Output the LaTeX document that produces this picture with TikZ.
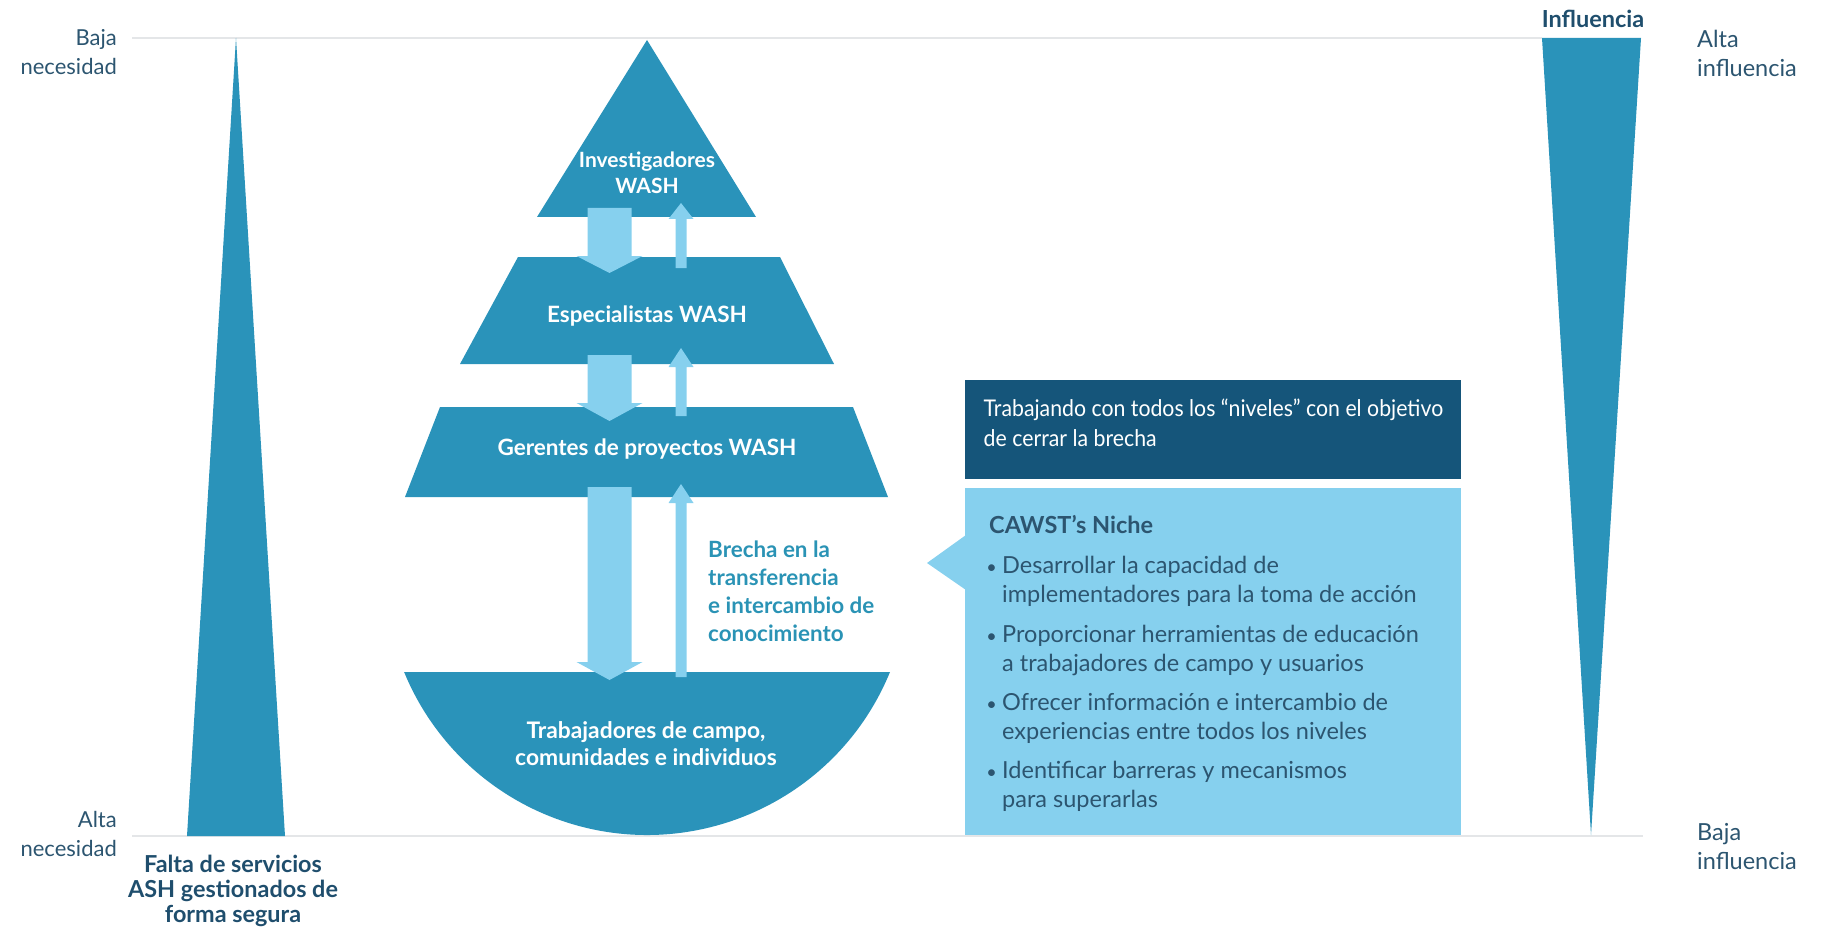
\documentclass[tikz,border=0pt]{standalone}
\usepackage{fontspec}
\setmainfont{Lato}
\newfontfamily\condfont{Lato}[FakeStretch=0.925]
\definecolor{drop}{HTML}{2A93BA}
\definecolor{lightb}{HTML}{86D0EE}
\definecolor{darkbox}{HTML}{15557A}
\definecolor{txt}{HTML}{2C5570}
\definecolor{txtb}{HTML}{1F4E6D}
\definecolor{gapc}{HTML}{2A93B5}
\definecolor{rulec}{HTML}{E4E6E8}
\newcommand{\blockdown}[4]{% x-center, top, head base, tip
  \fill[lightb] ({#1-22},#2) -- ({#1+22},#2) -- ({#1+22},#3) -- ({#1+33},#3) -- (#1,#4) -- ({#1-33},#3) -- ({#1-22},#3) -- cycle;}
\newcommand{\blockup}[4]{% x-center, bottom, head base, tip
  \fill[lightb] ({#1-5.5},#2) -- ({#1+5.5},#2) -- ({#1+5.5},#3) -- ({#1+12.5},#3) -- (#1,#4) -- ({#1-12.5},#3) -- ({#1-5.5},#3) -- cycle;}
\begin{document}
\begin{tikzpicture}[x=1pt,y=-1pt,
  lbl/.style={text=txt,font=\fontsize{22}{29}\selectfont,inner sep=0pt},
  wlbl/.style={text=white,font=\bfseries\fontsize{22.5}{26}\selectfont,inner sep=0pt,align=center},
  bul/.style={text=txt,font=\fontsize{23.5}{28.5}\selectfont,inner sep=0pt,align=left,anchor=north west},
  dot/.style={text=txt,font=\fontsize{18}{20}\selectfont,inner sep=0pt,anchor=base east}]
\useasboundingbox (0,0) rectangle (1823,936);
% rules
\draw[rulec,line width=2pt] (132,38) -- (1542,38);
\draw[rulec,line width=2pt] (132,836) -- (1643,836);
% spikes
\fill[drop] (236,38) -- (285,836) -- (187,836) -- cycle;
\fill[drop] (1542,38) -- (1641,38) -- (1591,835) -- cycle;
% drop pieces
\fill[drop] (647,40) -- (756,217) -- (537,217) -- cycle;
\fill[drop] (518,257) -- (780,257) -- (834,364) -- (460,364) -- cycle;
\fill[drop] (440,407) -- (853,407) -- (888,497) -- (405,497) -- cycle;
\fill[drop] (890,672) arc[start angle=22.3,end angle=157.7,radius=262.6] -- cycle;
% arrows
\blockdown{609.5}{208}{256}{273}
\blockup{681}{268}{219}{203}
\blockdown{609.5}{355}{403}{421}
\blockup{681}{416}{367}{348}
\blockdown{609.5}{487}{662}{680}
\blockup{681}{677}{503}{484}
% pyramid labels
\node[wlbl,anchor=north,font=\bfseries\fontsize{21}{26}\selectfont] (inv) at (647,152) {Investigadores\\WASH};
\node[wlbl,anchor=base] (esp) at (647,322) {Especialistas WASH};
\node[wlbl,anchor=base] (ger) at (647,455) {Gerentes de proyectos WASH};
\node[wlbl,anchor=north,font=\bfseries\fontsize{22.8}{27}\selectfont] (tra) at (646,721) {Trabajadores de campo,\\comunidades e individuos};
\node[inner sep=0pt,anchor=north west,align=left,text=gapc,font=\bfseries\fontsize{22.4}{28}\selectfont] (gap) at (708,541) {Brecha en la\\transferencia\\e intercambio de\\conocimiento};
% side labels
\node[lbl,anchor=north east,align=right] (bn) at (117,29) {Baja\\necesidad};
\node[lbl,anchor=north east,align=right] (an) at (117,811) {Alta\\necesidad};
\node[lbl,anchor=north west,align=left,font=\fontsize{23.5}{29}\selectfont] (ai) at (1697,30) {Alta\\influencia};
\node[lbl,anchor=north west,align=left,font=\fontsize{23.5}{29}\selectfont] (bi) at (1697,823) {Baja\\influencia};
\node[inner sep=0pt,anchor=base,text=txtb,font=\bfseries\fontsize{23.5}{26}\selectfont] (inf) at (1593,28) {Influencia};
\node[inner sep=0pt,anchor=north,align=center,text=txtb,font=\bfseries\fontsize{23.4}{25}\selectfont] (fal) at (233,855) {Falta de servicios\\ASH gestionados de\\forma segura};
% boxes
\fill[darkbox] (965,380) rectangle (1461,479);
\fill[lightb] (965,488) rectangle (1461,835);
\fill[lightb] (927,563) -- (966,535) -- (966,590) -- cycle;
\node[inner sep=0pt,anchor=north west,align=left,text=white,font=\condfont\fontsize{23}{30}\selectfont] (obj) at (983.5,399) {Trabajando con todos los “niveles” con el objetivo\\de cerrar la brecha};
\node[inner sep=0pt,anchor=base west,text=txt,font=\bfseries\fontsize{23.5}{26}\selectfont] (cawst) at (989,533) {CAWST’s Niche};
\node[bul] (b1) at (1002,556) {Desarrollar la capacidad de\\implementadores para la toma de acción};
\node[bul] (b2) at (1002,625) {Proporcionar herramientas de educación\\a trabajadores de campo y usuarios};
\node[bul] (b3) at (1002,693) {Ofrecer información e intercambio de\\experiencias entre todos los niveles};
\node[bul] (b4) at (1002,761) {Identificar barreras y mecanismos\\para superarlas};
\node[dot] (d1) at (997,573) {•};
\node[dot] (d2) at (997,642) {•};
\node[dot] (d3) at (997,710) {•};
\node[dot] (d4) at (997,778) {•};
\end{tikzpicture}
\end{document}
